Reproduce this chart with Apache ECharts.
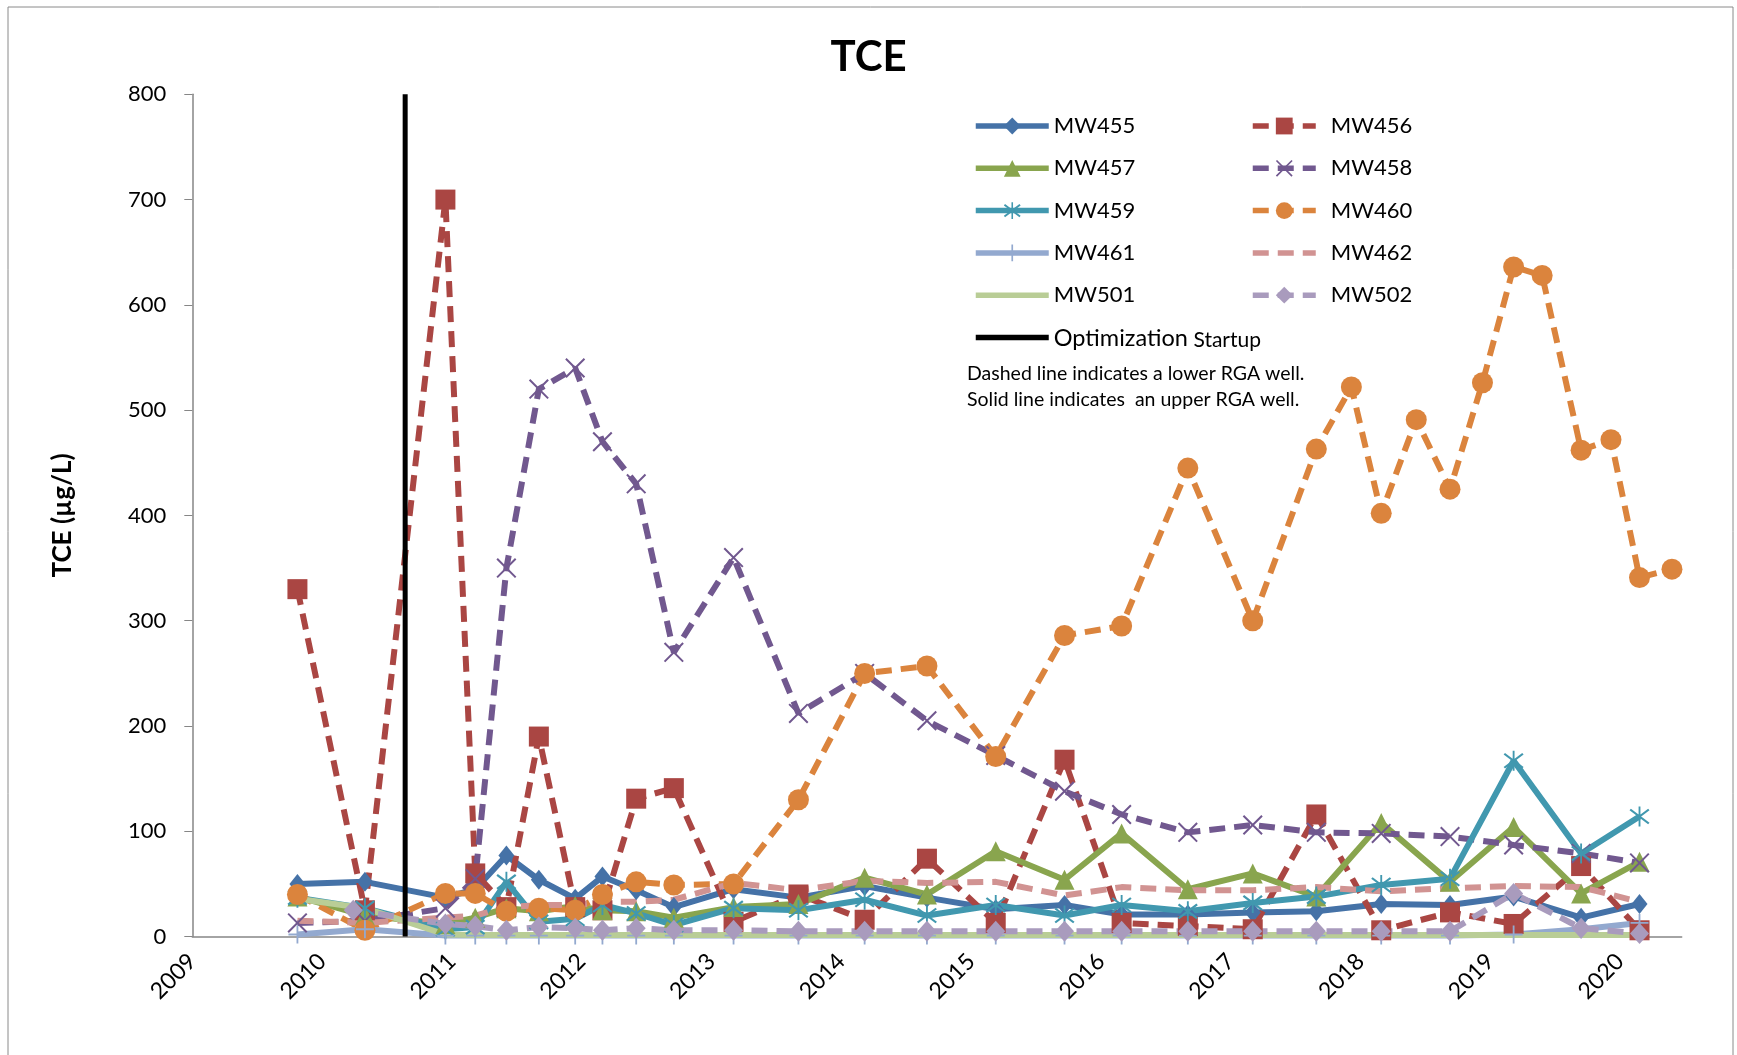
<!DOCTYPE html>
<html>
<head>
<meta charset="utf-8">
<script src="https://cdn.jsdelivr.net/npm/echarts@6/dist/echarts.min.js"></script>
<style>
html,body{margin:0;padding:0;background:#fff;}
#chart{width:1737px;height:1055px;}
</style>
</head>
<body>
<div id="chart"></div>
<script>
// Sample dates as decimal years
const sampleDates = [2009.81, 2010.24, 2010.33, 2010.95, 2011.18, 2011.42, 2011.67, 2011.95, 2012.16, 2012.42,
  2012.71, 2013.17, 2013.67, 2014.18, 2014.66, 2015.19, 2015.72, 2016.16, 2016.67, 2017.17,
  2017.66, 2017.93, 2018.16, 2018.43, 2018.69, 2018.94, 2019.18, 2019.40, 2019.70, 2019.93,
  2020.15, 2020.40];

// TCE (µg/L) per well, aligned with sampleDates (null = not sampled)
const MW455 = [50, null, 52, 37, 45, 77, 54, 36, 57, 44, 28, 45, 37, 48, 37, 26, 30, 21, 21, 23, 24, null, 31, null, 30, null, 38, null, 18, null, 31, null];
const MW456 = [330, null, 25, 700, 60, 28, 190, 28, 25, 131, 141, 14, 40, 16, 74, 13, 168, 13, 10, 7, 116, null, 6, null, 23, null, 12, null, 67, null, 6, null];
const MW457 = [38, null, 20, 12, 18, 27, 24, 29, 25, 24, 18, 28, 31, 56, 40, 81, 54, 98, 45, 60, 38, null, 108, null, 52, null, 104, null, 41, null, 71, null];
const MW458 = [13, null, 15, 27, 55, 350, 520, 540, 470, 430, 270, 360, 212, 250, 205, 172, 138, 116, 99, 106, 99, null, 98, null, 95, null, 87, null, 79, null, 70, null];
const MW459 = [37, null, 27, 7, 9, 52, 14, 17, 30, 22, 11, 27, 25, 35, 20, 30, 20, 30, 24, 32, 38, null, 49, null, 55, null, 167, null, 79, null, 114, null];
const MW460 = [40, null, 6, 41, 41, 24, 27, 25, 40, 52, 49, 50, 130, 250, 257, 171, 286, 295, 445, 300, 463, 522, 402, 491, 425, 526, 636, 628, 462, 472, 341, 349];
const MW461 = [2, null, 7, 1, 1, 1, 1, 1, 1, 1, 1, 1, 1, 1, 1, 1, 1, 1, 1, 1, 1, null, 1, null, 1, null, 2, null, 7, null, 13, null];
const MW462 = [15, null, 13, 18, 20, 28, 30, 30, 33, 33, 35, 51, 44, 53, 51, 52, 39, 47, 44, 44, 47, null, 43, null, 46, null, 48, null, 47, null, 33, null];
const MW501 = [36, null, 27, 2, 1.5, 1.5, 1.5, 1.5, 1.5, 1.5, 1.5, 1.5, 1.5, 1.5, 1.5, 1.5, 1.5, 1.5, 1.5, 1.5, 1.5, null, 1.5, null, 1.5, null, 1.5, null, 1.5, null, 1.5, null];
const MW502 = [null, 25, null, 12, 10, 6, 9, 8, 6, 8, 6, 6, 5, 5, 5, 5, 5, 5, 5, 5, 5, null, 5, null, 5, null, 41, null, 8, null, 3, null];

const optimizationStartup = 2010.64;   // date of the optimization startup line
const yRange = [0, 800];
const xRange = [2009, 2020.475];

const leftLegendNames = ['MW455', 'MW457', 'MW459', 'MW461', 'MW501', 'Optimization Startup'];
const rightLegendNames = ['MW456', 'MW458', 'MW460', 'MW462', 'MW502'];
const noMarkerNames = ['MW462', 'MW501', 'Optimization Startup'];

function pairs(vals) {
  const out = [];
  vals.forEach((v, i) => { if (v !== null) out.push([sampleDates[i], v]); });
  return out;
}

const asterisk = 'path://M46 0L54 0L54 100L46 100Z M7 19L13 11L93 81L87 89Z M87 11L93 19L13 89L7 81Z';
const xMark = 'path://M8 14L14 8L92 86L86 92Z M86 8L92 14L14 92L8 86Z';
const plusMark = 'path://M45 0L55 0L55 100L45 100Z M0 45L100 45L100 55L0 55Z';
const dash = [16, 9];
const LW = 6;

const defs = [
  { name: 'MW455', data: MW455, color: '#4572A7', dashed: false, symbol: 'diamond', size: [16, 20] },
  { name: 'MW456', data: MW456, color: '#AA4643', dashed: true, symbol: 'rect', size: 20 },
  { name: 'MW457', data: MW457, color: '#89A54E', dashed: false, symbol: 'triangle', size: 20 },
  { name: 'MW458', data: MW458, color: '#71588F', dashed: true, symbol: xMark, size: 20 },
  { name: 'MW459', data: MW459, color: '#4198AF', dashed: false, symbol: asterisk, size: 20 },
  { name: 'MW460', data: MW460, color: '#DB843D', dashed: true, symbol: 'circle', size: 21 },
  { name: 'MW461', data: MW461, color: '#93A9CF', dashed: false, symbol: plusMark, size: 18 },
  { name: 'MW462', data: MW462, color: '#D19392', dashed: true, symbol: 'none', size: 0 },
  { name: 'MW501', data: MW501, color: '#B9CD96', dashed: false, symbol: 'none', size: 0 },
  { name: 'MW502', data: MW502, color: '#A99BBD', dashed: true, symbol: 'diamond', size: [19, 21] }
];

const series = defs.map(d => ({
  name: d.name,
  type: 'line',
  data: pairs(d.data),
  symbol: d.symbol,
  symbolSize: d.size,
  showSymbol: d.symbol !== 'none',
  color: d.color,
  lineStyle: { color: d.color, width: LW, type: d.dashed ? dash : 'solid' },
  itemStyle: { color: d.color, borderWidth: 0 },
  emphasis: { disabled: true },
  animation: false
}));

series.push({
  name: 'Optimization Startup',
  type: 'line',
  data: [[optimizationStartup, yRange[0]], [optimizationStartup, yRange[1]]],
  symbol: 'none',
  showSymbol: false,
  color: '#000',
  lineStyle: { color: '#000', width: 5 },
  itemStyle: { color: '#000' },
  emphasis: { disabled: true },
  animation: false
});

function legendData(names) {
  return names.map(n => noMarkerNames.indexOf(n) >= 0
    ? { name: n, itemStyle: { color: 'rgba(0,0,0,0)', opacity: 0 } }
    : { name: n });
}

const FONT = 'Lato';

const chart = echarts.init(document.getElementById('chart'), null, { renderer: 'canvas' });
chart.setOption({
  backgroundColor: '#fff',
  animation: false,
  title: {
    text: 'TCE',
    left: 'center',
    top: 31,
    textStyle: { fontFamily: FONT, fontSize: 42, fontWeight: 'bold', color: '#000' }
  },
  grid: { left: 192.3, top: 94.3, right: 55.3, bottom: 118.4, containLabel: false },
  xAxis: {
    type: 'value',
    min: xRange[0],
    max: xRange[1],
    interval: 1,
    axisLine: { show: true, lineStyle: { color: '#868686', width: 1.5 } },
    axisTick: { show: false },
    splitLine: { show: false },
    axisLabel: {
      rotate: 45,
      margin: 21,
      fontFamily: FONT,
      fontSize: 23,
      color: '#000',
      showMaxLabel: false,
      formatter: v => (Math.abs(v - Math.round(v)) < 1e-6 ? String(Math.round(v)) : '')
    }
  },
  yAxis: {
    type: 'value',
    min: yRange[0],
    max: yRange[1],
    interval: 100,
    name: 'TCE (µg/L)',
    nameLocation: 'middle',
    nameRotate: 90,
    nameGap: 117,
    nameTextStyle: { fontFamily: FONT, fontSize: 26, fontWeight: 'bold', color: '#000' },
    axisLine: { show: true, lineStyle: { color: '#868686', width: 1.5 } },
    axisTick: { show: true, length: 8, lineStyle: { color: '#868686' } },
    splitLine: { show: false },
    axisLabel: { margin: 26, fontFamily: FONT, fontSize: 22, color: '#000' }
  },
  legend: [
    {
      data: legendData(leftLegendNames),
      orient: 'vertical',
      left: 973,
      top: 113,
      padding: 0,
      itemWidth: 73,
      itemHeight: 21,
      itemGap: 16.3,
      selectedMode: false,
      lineStyle: { width: 5.5 },
      formatter: name => name === 'Optimization Startup' ? '{a|Optimization} {b|Startup}' : name,
      textStyle: {
        fontFamily: FONT, fontSize: 22, color: '#000', lineHeight: 26,
        rich: {
          a: { fontFamily: FONT, fontSize: 23.5, color: '#000', lineHeight: 26, verticalAlign: 'bottom' },
          b: { fontFamily: FONT, fontSize: 21, color: '#000', lineHeight: 26, verticalAlign: 'bottom' }
        }
      }
    },
    {
      data: legendData(rightLegendNames),
      orient: 'vertical',
      left: 1250,
      top: 113,
      padding: 0,
      itemWidth: 63,
      itemHeight: 21,
      itemGap: 16.3,
      selectedMode: false,
      lineStyle: { width: 5.5 },
      formatter: name => '{s|}{t|' + name + '}',
      textStyle: {
        fontFamily: FONT, fontSize: 22, color: '#000', lineHeight: 26,
        rich: {
          s: { width: 10, lineHeight: 26 },
          t: { fontFamily: FONT, fontSize: 22, color: '#000', lineHeight: 26 }
        }
      }
    }
  ],
  graphic: [
    {
      type: 'rect', silent: true,
      shape: { x: 8, y: 7, width: 1725, height: 1060 },
      style: { fill: null, stroke: '#8a8a8a', lineWidth: 1 }
    },
    {
      type: 'text', left: 967, top: 364, silent: true,
      style: { text: 'Dashed line indicates a lower RGA well.', fontFamily: FONT, fontSize: 19.5, fill: '#000' }
    },
    {
      type: 'text', left: 967, top: 390, silent: true,
      style: { text: 'Solid line indicates  an upper RGA well.', fontFamily: FONT, fontSize: 19.5, fill: '#000' }
    }
  ],
  series: series
});
</script>
</body>
</html>
